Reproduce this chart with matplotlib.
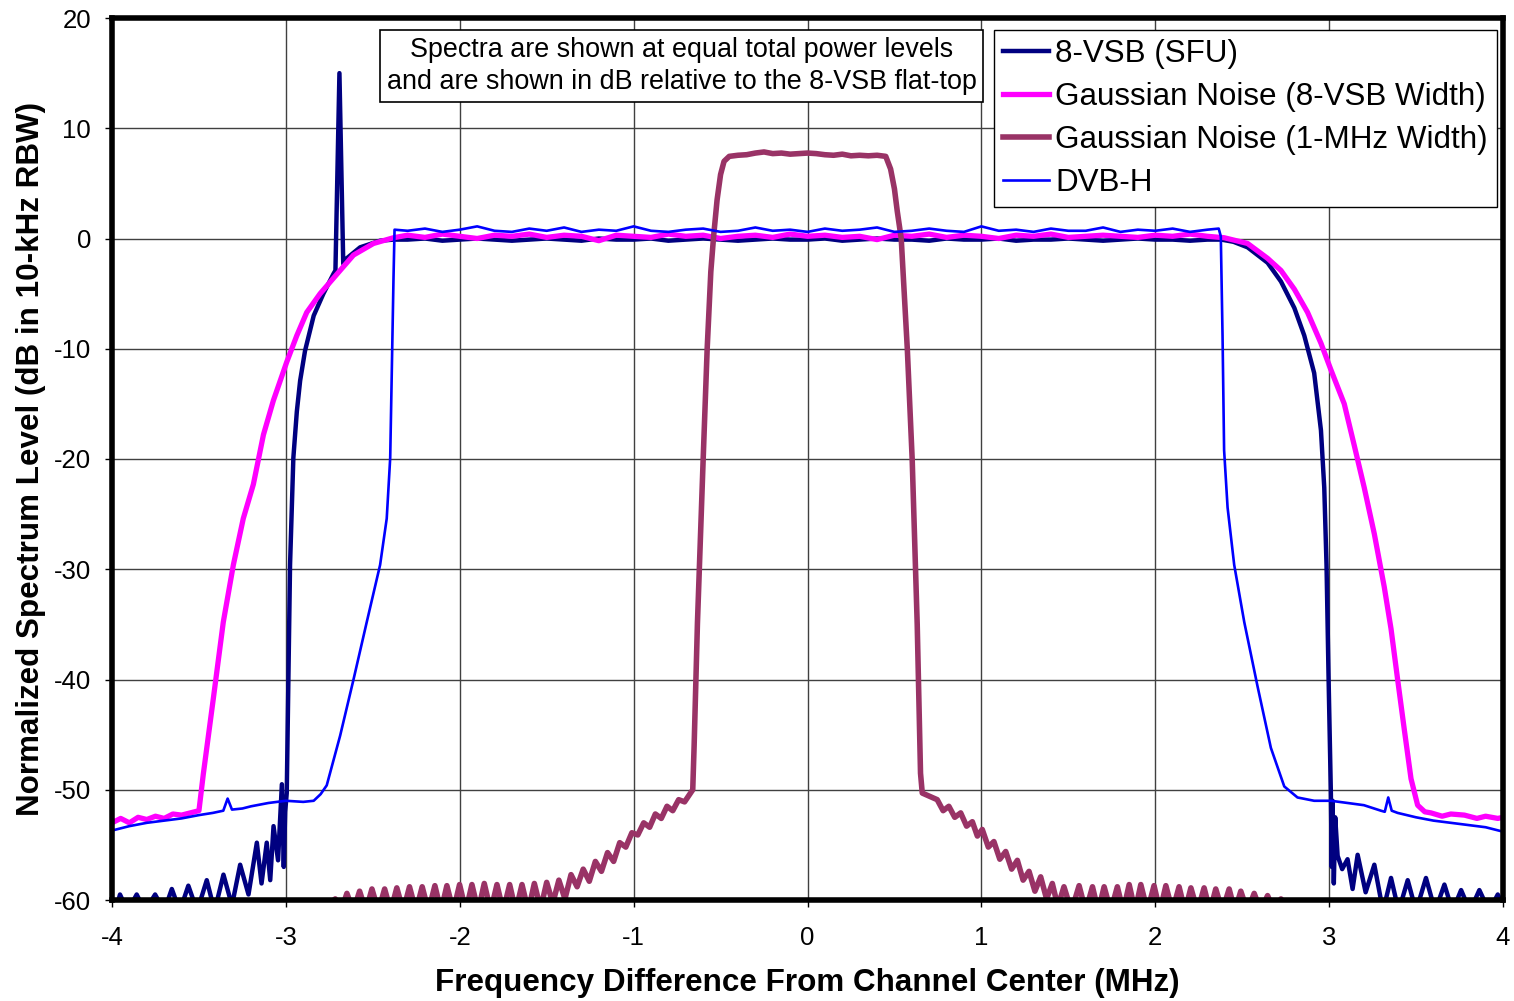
import matplotlib
matplotlib.use("Agg")
import matplotlib.pyplot as plt

plt.rcParams['font.family'] = ['Liberation Sans', 'DejaVu Sans']
plt.rcParams['axes.unicode_minus'] = False

# shared sampling of the flat top (MHz)
flat_x = [-2.3, -2.2, -2.1, -2.0, -1.9, -1.8, -1.7, -1.6, -1.5, -1.4,
          -1.3, -1.2, -1.1, -1.0, -0.9, -0.8, -0.7, -0.6, -0.5, -0.4,
          -0.3, -0.2, -0.1, 0.0, 0.1, 0.2, 0.3, 0.4, 0.5, 0.6,
          0.7, 0.8, 0.9, 1.0, 1.1, 1.2, 1.3, 1.4, 1.5, 1.6,
          1.7, 1.8, 1.9, 2.0, 2.1, 2.2, 2.3]

# 8-VSB (SFU)
vsb_x_left = [-4.00, -3.98, -3.954, -3.91, -3.858, -3.81, -3.752, -3.70, -3.656, -3.61,
              -3.561, -3.51, -3.455, -3.41, -3.359, -3.31, -3.263, -3.215, -3.167, -3.14,
              -3.11, -3.09, -3.071, -3.045, -3.023, -3.012, -3.004, -2.995, -2.976, -2.957,
              -2.937, -2.918, -2.89, -2.84, -2.784, -2.726, -2.715, -2.692, -2.670, -2.65,
              -2.573, -2.458, -2.38]
vsb_y_left = [-61, -61, -59.5, -61, -59.5, -61, -59.5, -61, -59.0, -61,
              -58.7, -61, -58.2, -61, -57.7, -60.5, -56.8, -59.5, -54.8, -58.5,
              -54.8, -58.2, -53.3, -56.4, -49.5, -57.0, -52.0, -50.3, -29.6, -19.9,
              -15.7, -12.9, -10.2, -7.0, -5.0, -3.2, -2.9, 15.0, -2.3, -1.8,
              -0.8, -0.2, -0.1]
vsb_flat = [-0.1, 0.0, -0.2, -0.1, 0.0, -0.1, -0.2, -0.1, 0.0, -0.1,
            -0.2, 0.0, -0.1, -0.1, 0.0, -0.2, -0.1, 0.0, -0.1, -0.2,
            -0.1, 0.0, -0.1, -0.1, 0.0, -0.2, -0.1, 0.0, -0.1, -0.1,
            -0.2, 0.0, -0.1, -0.1, 0.0, -0.2, -0.1, -0.1, 0.0, -0.1,
            -0.2, -0.1, 0.0, -0.1, -0.1, -0.2, -0.1]
vsb_x_right = [2.38, 2.45, 2.531, 2.646, 2.723, 2.8, 2.857, 2.914, 2.953, 2.972,
               2.985, 2.997, 3.01, 3.015, 3.02, 3.027, 3.035, 3.049, 3.075, 3.106,
               3.135, 3.164, 3.21, 3.26, 3.31, 3.356, 3.40, 3.452, 3.50, 3.557,
               3.61, 3.663, 3.71, 3.759, 3.81, 3.864, 3.92, 3.97, 4.0]
vsb_y_right = [-0.1, -0.3, -0.8, -2.2, -3.9, -6.3, -8.8, -12.2, -17.4, -22.6,
               -29.6, -40.0, -50.3, -57.0, -51.0, -58.5, -52.5, -56.0, -57.2, -56.3,
               -59.0, -55.9, -59.3, -56.8, -61, -58.0, -61, -58.2, -61, -58.0,
               -61, -58.6, -61, -59.1, -61, -59.1, -61, -59.5, -60.5]

# Gaussian noise, 8-VSB width
gn8_x_left = [-4.0, -3.95, -3.9, -3.85, -3.8, -3.75, -3.7, -3.65, -3.6, -3.55,
              -3.50, -3.475, -3.417, -3.36, -3.302, -3.245, -3.187, -3.129, -3.072, -2.995,
              -2.937, -2.88, -2.803, -2.688, -2.611, -2.496, -2.381]
gn8_y_left = [-53.0, -52.6, -53.0, -52.5, -52.7, -52.4, -52.6, -52.2, -52.3, -52.1,
              -51.9, -48.6, -41.7, -34.8, -29.6, -25.4, -22.3, -17.8, -14.7, -11.2,
              -8.8, -6.7, -5.0, -2.9, -1.5, -0.45, 0.07]
gn8_flat = [0.3, 0.1, 0.4, 0.2, 0.0, 0.3, 0.2, 0.4, 0.1, 0.3,
            0.2, -0.2, 0.3, 0.2, 0.1, 0.4, 0.2, 0.3, 0.0, 0.2,
            0.3, 0.1, 0.4, 0.2, 0.3, 0.1, 0.2, -0.1, 0.3, 0.2,
            0.4, 0.1, 0.3, 0.2, 0.0, 0.3, 0.2, 0.4, 0.1, 0.2,
            0.3, 0.2, 0.1, 0.3, 0.2, 0.4, 0.2]
gn8_x_right = [2.396, 2.531, 2.646, 2.723, 2.8, 2.876, 2.953, 3.01, 3.087, 3.145,
               3.202, 3.26, 3.317, 3.356, 3.394, 3.432, 3.471, 3.509, 3.55, 3.586,
               3.65, 3.7, 3.778, 3.85, 3.9, 3.97, 4.0]
gn8_y_right = [0.07, -0.45, -1.8, -2.9, -4.6, -6.7, -9.5, -11.9, -15.0, -18.8,
               -22.6, -26.8, -31.6, -35.4, -40.0, -44.5, -49.0, -51.4, -52.0, -52.1,
               -52.4, -52.2, -52.3, -52.6, -52.4, -52.6, -52.5]

# Gaussian noise, 1-MHz width
gn1_x = [-2.80, -2.716, -2.683, -2.649, -2.612, -2.576, -2.540, -2.505, -2.468, -2.432,
         -2.397, -2.362, -2.325, -2.289, -2.252, -2.216, -2.180, -2.143, -2.108, -2.074,
         -2.037, -2.001, -1.965, -1.930, -1.894, -1.859, -1.822, -1.786, -1.750, -1.713,
         -1.678, -1.642, -1.606, -1.571, -1.535, -1.500, -1.465, -1.430, -1.395, -1.360,
         -1.325, -1.290, -1.255, -1.220, -1.185, -1.150, -1.115, -1.080, -1.045, -1.010,
         -0.976, -0.942, -0.908, -0.875, -0.841, -0.808, -0.775, -0.741, -0.707, -0.673,
         -0.660, -0.652, -0.633, -0.600, -0.577, -0.556, -0.540, -0.520, -0.500, -0.480,
         -0.450, -0.400, -0.350, -0.300, -0.250, -0.200, -0.150, -0.100, -0.050, 0.000,
         0.050, 0.100, 0.150, 0.200, 0.250, 0.300, 0.350, 0.400, 0.450, 0.478,
         0.500, 0.516, 0.539, 0.574, 0.602, 0.631, 0.650, 0.660, 0.746, 0.780,
         0.813, 0.847, 0.881, 0.915, 0.948, 0.977, 1.005, 1.040, 1.072, 1.106,
         1.140, 1.174, 1.207, 1.240, 1.274, 1.308, 1.341, 1.375, 1.408, 1.440,
         1.475, 1.518, 1.562, 1.600, 1.639, 1.672, 1.706, 1.744, 1.782, 1.816,
         1.850, 1.884, 1.917, 1.955, 1.993, 2.027, 2.061, 2.099, 2.137, 2.171,
         2.205, 2.243, 2.281, 2.315, 2.348, 2.386, 2.425, 2.458, 2.492, 2.530,
         2.569, 2.607, 2.646, 2.684, 2.723, 2.760]
gn1_y = [-61.0, -59.9, -61.0, -59.4, -61.0, -59.2, -61.0, -59.0, -61.0, -59.0,
         -61.0, -58.9, -61.0, -58.8, -61.0, -58.8, -61.0, -58.7, -61.0, -58.7,
         -61.0, -58.6, -61.0, -58.6, -61.0, -58.5, -61.0, -58.6, -61.0, -58.6,
         -61.0, -58.6, -61.0, -58.5, -60.8, -58.4, -60.3, -58.2, -59.9, -57.7,
         -58.8, -57.2, -58.3, -56.5, -57.4, -55.7, -56.5, -54.8, -55.2, -53.9,
         -54.1, -53.0, -53.4, -52.2, -52.6, -51.5, -51.9, -50.9, -51.1, -50.3,
         -50.0, -46.0, -34.9, -20.0, -10.0, -3.0, 0.2, 3.5, 5.8, 7.0,
         7.45, 7.55, 7.6, 7.75, 7.85, 7.7, 7.75, 7.65, 7.7, 7.75,
         7.7, 7.6, 7.55, 7.65, 7.5, 7.55, 7.5, 7.55, 7.45, 6.3,
         4.5, 2.5, 0.0, -10.0, -20.0, -35.0, -48.5, -50.3, -50.9, -51.9,
         -51.5, -52.5, -52.1, -53.3, -52.9, -54.2, -53.6, -55.2, -54.7, -56.3,
         -55.6, -57.2, -56.4, -58.2, -57.4, -59.2, -57.9, -59.9, -58.5, -60.6,
         -58.8, -61.0, -58.7, -61.0, -58.8, -61.0, -58.8, -61.0, -58.8, -61.0,
         -58.6, -61.0, -58.6, -61.0, -58.7, -61.0, -58.7, -61.0, -58.8, -61.0,
         -58.9, -61.0, -58.9, -61.0, -59.0, -61.0, -59.0, -61.0, -59.2, -61.0,
         -59.4, -61.0, -59.6, -61.0, -59.9, -61.0]

# DVB-H
dvb_x_left = [-4.0, -3.9, -3.8, -3.7, -3.6, -3.5, -3.42, -3.36, -3.335, -3.31,
              -3.25, -3.2, -3.1, -3.0, -2.9, -2.84, -2.80, -2.765, -2.688, -2.611,
              -2.535, -2.458, -2.42, -2.40, -2.391, -2.381, -2.375]
dvb_y_left = [-53.7, -53.3, -53.0, -52.8, -52.6, -52.3, -52.1, -51.9, -50.8, -51.8,
              -51.7, -51.5, -51.2, -51.0, -51.1, -51.0, -50.4, -49.6, -45.1, -40.0,
              -34.8, -29.6, -25.4, -19.9, -12.2, -3.6, 0.8]
dvb_flat = [0.7, 0.9, 0.6, 0.8, 1.1, 0.7, 0.6, 0.9, 0.7, 1.0,
            0.6, 0.8, 0.7, 1.1, 0.7, 0.6, 0.8, 0.9, 0.6, 0.7,
            1.0, 0.7, 0.8, 0.6, 0.9, 0.7, 0.8, 1.0, 0.6, 0.7,
            0.9, 0.7, 0.6, 1.1, 0.7, 0.8, 0.6, 0.9, 0.7, 0.7,
            1.0, 0.6, 0.8, 0.7, 0.9, 0.6, 0.8]
dvb_x_right = [2.365, 2.377, 2.387, 2.396, 2.416, 2.454, 2.512, 2.588, 2.665, 2.742,
               2.818, 2.914, 3.01, 3.106, 3.2, 3.298, 3.32, 3.34, 3.36, 3.394,
               3.5, 3.6, 3.7, 3.8, 3.9, 4.0]
dvb_y_right = [0.9, 0.2, -8.8, -19.2, -24.4, -29.6, -34.8, -40.6, -46.2, -49.7,
               -50.7, -51.0, -51.0, -51.2, -51.4, -51.9, -52.0, -50.7, -51.9, -52.1,
               -52.5, -52.8, -53.0, -53.2, -53.4, -53.8]

x_ticks = [-4, -3, -2, -1, 0, 1, 2, 3, 4]
y_ticks = [-60, -50, -40, -30, -20, -10, 0, 10, 20]

note = ("Spectra are shown at equal total power levels\n"
        "and are shown in dB relative to the 8-VSB flat-top")


def main():
    fig = plt.figure(figsize=(15.14, 10.01), dpi=100)
    ax = fig.add_axes([112 / 1514, 1 - 900 / 1001, 1391 / 1514, 882 / 1001])

    ax.plot(vsb_x_left + flat_x + vsb_x_right, vsb_y_left + vsb_flat + vsb_y_right,
            color='#000080', lw=3.2, label='8-VSB (SFU)', zorder=3)
    ax.plot(gn8_x_left + flat_x + gn8_x_right, gn8_y_left + gn8_flat + gn8_y_right,
            color='#FF00FF', lw=3.8, label='Gaussian Noise (8-VSB Width)', zorder=4)
    ax.plot(gn1_x, gn1_y, color='#993366', lw=4.0,
            label='Gaussian Noise (1-MHz Width)', zorder=5)
    ax.plot(dvb_x_left + flat_x + dvb_x_right, dvb_y_left + dvb_flat + dvb_y_right,
            color='#0000FF', lw=1.9, label='DVB-H', zorder=6)

    ax.set_xlim(-4, 4)
    ax.set_ylim(-60, 20)
    ax.set_xticks(x_ticks)
    ax.set_yticks(y_ticks)
    ax.grid(True, color='#404040', lw=1.0)
    ax.set_axisbelow(True)
    for s in ax.spines.values():
        s.set_linewidth(4)
        s.set_zorder(10)
    ax.tick_params(axis='both', direction='out', length=5, width=1, labelsize=18.5)
    ax.tick_params(axis='x', pad=14)
    ax.tick_params(axis='y', pad=10)

    ax.set_xlabel('Frequency Difference From Channel Center (MHz)',
                  fontsize=22.6, fontweight='bold', labelpad=13)
    ax.set_ylabel('Normalized Spectrum Level (dB in 10-kHz RBW)',
                  fontsize=22.6, fontweight='bold', labelpad=6)

    ax.text((681.5 - 112) / 1391, (900 - 66) / 882, note, transform=ax.transAxes,
            ha='center', va='center', fontsize=19.4, linespacing=1.3, zorder=20,
            bbox=dict(boxstyle='square,pad=0.25', fc='white', ec='black', lw=1.2))

    leg = ax.legend(loc='upper right', bbox_to_anchor=((1497 - 112) / 1391, (900 - 30) / 882),
                    borderaxespad=0, fontsize=22.6, fancybox=False, framealpha=1,
                    edgecolor='black', handlelength=1.45, handletextpad=0.2,
                    labelspacing=0.41, borderpad=0.3)
    leg.get_frame().set_linewidth(1.0)
    leg.set_zorder(20)

    fig.savefig('out.png', dpi=100, facecolor='white')


if __name__ == '__main__':
    main()
